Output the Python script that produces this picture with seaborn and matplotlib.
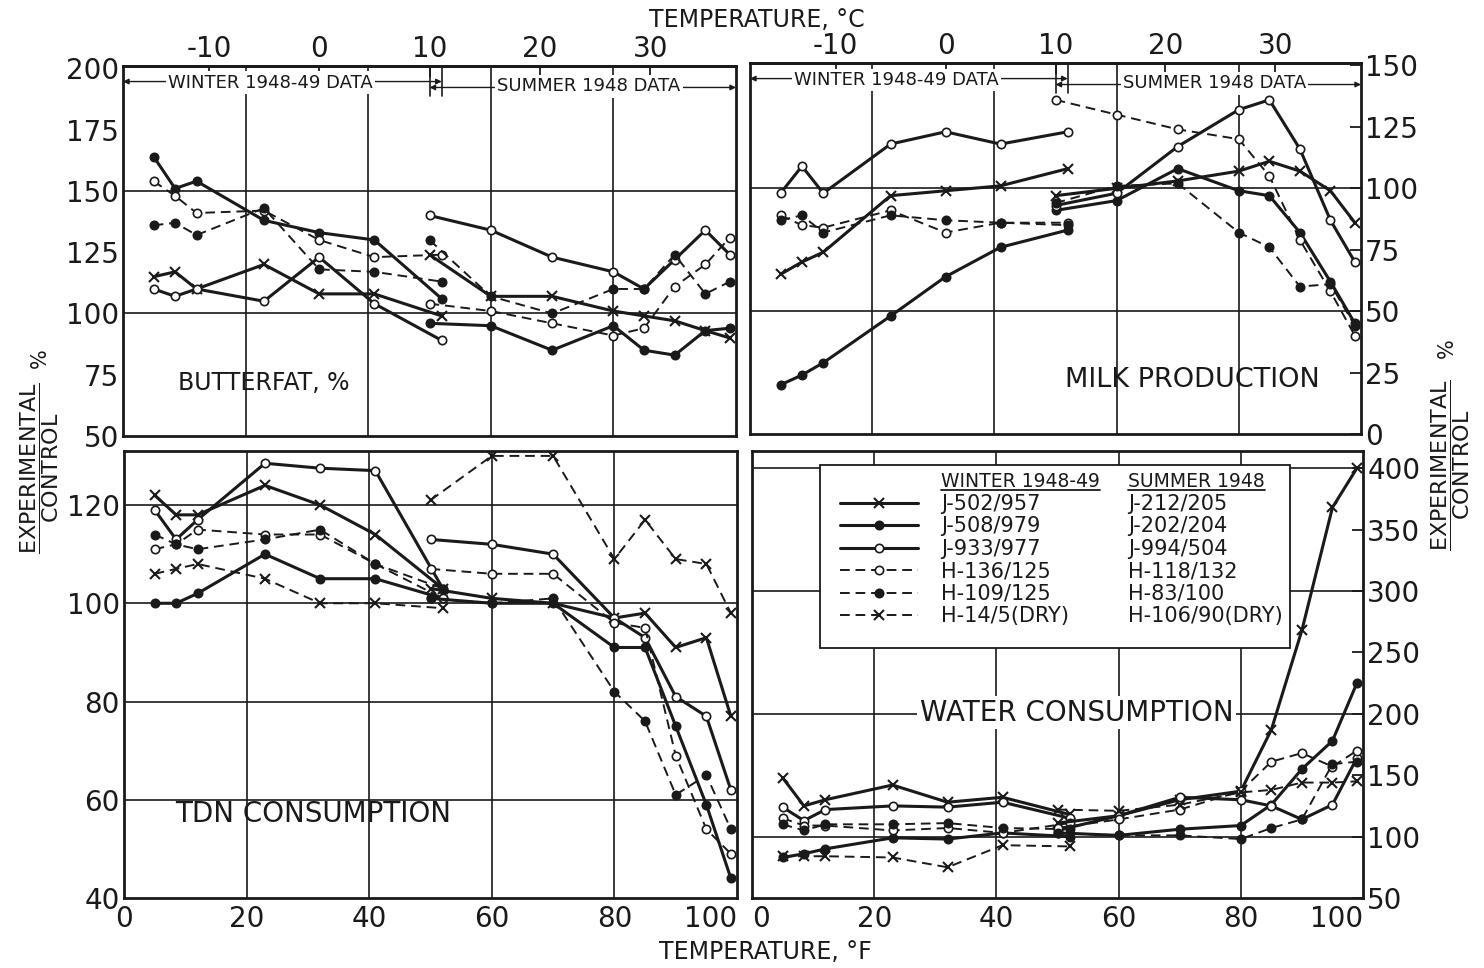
import numpy as np
import pandas as pd
import matplotlib
matplotlib.use("Agg")
import matplotlib.pyplot as plt
from matplotlib.lines import Line2D
from matplotlib.patches import Rectangle
import seaborn as sns

# ---------------------------------------------------------------------------
# Data, experimental / control in %
# ---------------------------------------------------------------------------
winter_temp = [5, 8.5, 12, 23, 32, 41, 52]          # deg F
summer_temp = [50, 60, 70, 80, 85, 90, 95, 99]      # deg F

winter_cows = ["J-502/957", "J-508/979", "J-933/977",
               "H-136/125", "H-109/125", "H-14/5(DRY)"]
summer_cows = ["J-212/205", "J-202/204", "J-994/504",
               "H-118/132", "H-83/100", "H-106/90(DRY)"]

# butterfat (no dry cows)
butterfat_winter = [
    [115, 117, 110, 120, 108, 108, 99],
    [164, 151, 154, 138, 133, 130, 106],
    [110, 107, 110, 105, 123, 104, 89],
    [154, 148, 141, 142, 130, 123, 124],
    [136, 137, 132, 143, 118, 117, 113],
]
butterfat_summer = [
    [124, 107, 107, 101, 99, 97, 93, 90],
    [96, 95, 85, 95, 85, 83, 93, 94],
    [140, 134, 123, 117, 110, 122, 134, 124],
    [104, 101, 96, 91, 94, 111, 120, 131],
    [130, 107, 100, 110, 110, 124, 108, 113],
]

# milk production (no dry cows)
milk_winter = [
    [65, 70, 74, 97, 99, 101, 108],
    [20, 24, 29, 48, 64, 76, 83],
    [98, 109, 98, 118, 123, 118, 123],
    [89, 85, 84, 91, 82, 86, 86],
    [87, 89, 82, 89, 87, 86, 85],
]
milk_summer = [
    [97, 100, 103, 107, 111, 107, 99, 86],
    [91, 95, 108, 99, 97, 82, 62, 45],
    [93, 98, 117, 132, 136, 116, 87, 70],
    [136, 130, 124, 120, 105, 79, 58, 40],
    [94, 101, 102, 82, 76, 60, 61, 44],
]

# TDN consumption
tdn_winter = [
    [122, 118, 118, 124, 120, 114, 103],
    [100, 100, 102, 110, 105, 105, 101],
    [119, 113, 117, 128.5, 127.5, 127, 103],
    [111, 112, 115, 114, 114, 108, 101],
    [114, 112, 111, 113, 115, 108, 103],
    [106, 107, 108, 105, 100, 100, 99],
]
tdn_summer = [
    [103, 101, 100, 97, 98, 91, 93, 77],
    [101, 100, 100, 91, 91, 75, 59, 44],
    [113, 112, 110, 97, 93, 81, 77, 62],
    [107, 106, 106, 96, 95, 69, 54, 49],
    [101, 100, 101, 82, 76, 61, 65, 54],
    [121, 130, 130, 109, 117, 109, 108, 98],
]

# water consumption
water_winter = [
    [148, 125, 130, 142, 128, 132, 118],
    [83, 86, 90, 99, 98, 103, 100],
    [124, 113, 122, 125, 124, 128, 115],
    [115, 109, 109, 105, 107, 103, 111],
    [110, 105, 110, 110, 111, 107, 106],
    [84, 84, 84, 83, 75, 93, 92],
]
water_summer = [
    [111, 117, 130, 137, 187, 268, 368, 400],
    [103, 101, 106, 109, 126, 155, 178, 225],
    [105, 117, 132, 130, 125, 114, 126, 164],
    [107, 114, 122, 137, 161, 168, 157, 170],
    [103, 101, 101, 98, 107, 114, 159, 161],
    [122, 121, 126, 136, 138, 144, 144, 145],
]

# marker, linestyle, marker face, line width  (same order as the cow lists)
line_styles = [
    ("x", "-", "k", 2.2),
    ("o", "-", "k", 2.2),
    ("o", "-", "w", 2.2),
    ("o", (0, (5, 3)), "w", 1.4),
    ("o", (0, (5, 3)), "k", 1.4),
    ("x", (0, (5, 3)), "k", 1.4),
]

sns.set_theme(style="white", rc={
    "axes.edgecolor": "k", "text.color": "k", "xtick.color": "k",
    "ytick.color": "k", "axes.labelcolor": "k"})
plt.rcParams["font.family"] = ["DejaVu Sans"]
plt.rcParams["mathtext.fontset"] = "dejavusans"
plt.rcParams["axes.unicode_minus"] = False

W, H = 1484, 968
fig = plt.figure(figsize=(W / 100, H / 100), dpi=100)


def px_axes(x0, y0, x1, y1):
    return fig.add_axes([x0 / W, 1 - y1 / H, (x1 - x0) / W, (y1 - y0) / H])


def draw_panel(ax, winter_rows, summer_rows):
    frames = []
    for season, temps, names, rows in (("winter", winter_temp, winter_cows, winter_rows),
                                       ("summer", summer_temp, summer_cows, summer_rows)):
        for k, vals in enumerate(rows):
            frames.append(pd.DataFrame({"temp": temps, "value": vals,
                                        "cow": names[k], "style": k, "season": season}))
    df = pd.concat(frames, ignore_index=True)
    for (season, cow), sub in df.groupby(["season", "cow"], sort=False):
        marker, ls, face, lw = line_styles[sub["style"].iloc[0]]
        sns.lineplot(data=sub, x="temp", y="value", ax=ax, color="k", lw=lw,
                     linestyle=ls, marker=marker,
                     markersize=7 if marker == "x" else 6,
                     markerfacecolor=face, markeredgecolor="k",
                     markeredgewidth=1.5 if marker == "x" else 1.2,
                     errorbar=None, legend=False, zorder=3)
    ax.set_xlabel("")
    ax.set_ylabel("")


ax_bf = px_axes(123, 66, 736, 436)
ax_mk = px_axes(750, 63, 1361, 434)
ax_tdn = px_axes(124, 451, 737, 898)
ax_wt = px_axes(752, 451, 1363, 898)

draw_panel(ax_bf, butterfat_winter, butterfat_summer)
draw_panel(ax_mk, milk_winter, milk_summer)
draw_panel(ax_tdn, tdn_winter, tdn_summer)
draw_panel(ax_wt, water_winter, water_summer)

for ax in (ax_bf, ax_mk, ax_tdn, ax_wt):
    ax.set_xlim(0, 100)
    ax.set_xticks([0, 20, 40, 60, 80, 100])
    ax.set_xticks([10, 30, 50, 70, 90], minor=True)
    for xg in (20, 40, 60, 80):
        ax.axvline(xg, color="k", lw=1.2, zorder=1)
    for s in ax.spines.values():
        s.set_linewidth(2)
    ax.tick_params(which="major", direction="in", length=8, width=1.3,
                   labelsize=20, pad=3)
    ax.tick_params(which="minor", direction="in", length=6, width=1.2)
    ax.tick_params(axis="x", pad=5)

for ax in (ax_bf, ax_mk):
    ax.tick_params(labelbottom=False)
for ax in (ax_mk, ax_wt):
    ax.yaxis.tick_right()

# y scales and horizontal rules
ax_bf.set_ylim(50, 201)
ax_bf.set_yticks(np.arange(50, 201, 25))
for yg in (100, 150):
    ax_bf.axhline(yg, color="k", lw=1.2, zorder=1)

ax_mk.set_ylim(0, 151)
ax_mk.set_yticks(np.arange(0, 151, 25))
for yg in (50, 100):
    ax_mk.axhline(yg, color="k", lw=1.2, zorder=1)

ax_tdn.set_ylim(40, 131)
ax_tdn.set_yticks(np.arange(40, 121, 20))
ax_tdn.set_yticks([50, 70, 90, 110], minor=True)
for yg in (60, 80, 100, 120):
    ax_tdn.axhline(yg, color="k", lw=1.2, zorder=1)

ax_wt.set_ylim(50, 414)
ax_wt.set_yticks(np.arange(50, 401, 50))
for yg in (100, 200, 300, 400):
    ax_wt.axhline(yg, color="k", lw=1.2, zorder=1)

# keep the touching corner labels of the bottom panels apart
ax_tdn.get_xticklabels()[-1].set_ha("right")
ax_wt.get_xticklabels()[0].set_ha("left")
ax_wt.get_xticklabels()[-1].set_ha("right")

# top axis in degrees C
def f_to_c(f):
    return (np.asarray(f) - 32) * 5 / 9


def c_to_f(c):
    return np.asarray(c) * 9 / 5 + 32


for ax in (ax_bf, ax_mk):
    sec = ax.secondary_xaxis("top", functions=(f_to_c, c_to_f))
    sec.set_xticks([-10, 0, 10, 20, 30])
    sec.tick_params(direction="in", length=8, width=1.3, labelsize=20, pad=2)
    sec.spines["top"].set_linewidth(2)

    # winter / summer data banners
    tr = ax.get_xaxis_transform()
    ax.annotate("", xy=(0, 0.958), xytext=(52, 0.958), xycoords=tr,
                arrowprops=dict(arrowstyle="<|-|>", lw=1, color="k",
                                shrinkA=0, shrinkB=0, mutation_scale=8))
    ax.annotate("", xy=(50, 0.942), xytext=(100, 0.942), xycoords=tr,
                arrowprops=dict(arrowstyle="<|-|>", lw=1, color="k",
                                shrinkA=0, shrinkB=0, mutation_scale=8))
    for xb in (50, 52):
        ax.plot([xb, xb], [0.92, 1.0], transform=tr, color="k", lw=1.2)
    ax.text(24, 0.955, "WINTER 1948-49 DATA", transform=tr, ha="center",
            va="center", fontsize=13, zorder=6,
            bbox=dict(fc="w", ec="none", pad=1.5))
    ax.text(76, 0.945, "SUMMER 1948 DATA", transform=tr, ha="center",
            va="center", fontsize=13, zorder=6,
            bbox=dict(fc="w", ec="none", pad=1.5))

# panel titles
ax_bf.text(9, 71.5, "BUTTERFAT, %", fontsize=17, va="center", ha="left")
ax_mk.text(51.5, 22, "MILK PRODUCTION", fontsize=19.5, va="center", ha="left")
ax_tdn.text(8.3, 57, "TDN CONSUMPTION", fontsize=20, va="center", ha="left")
ax_wt.text(27.5, 201, "WATER CONSUMPTION", fontsize=20, va="center",
           ha="left", zorder=4, bbox=dict(fc="w", ec="none", pad=2))

# axis titles
fig.text(757 / W, 1 - 20 / H, "TEMPERATURE, °C", fontsize=17,
         ha="center", va="center")
fig.text(765 / W, 1 - 952 / H, "TEMPERATURE, °F", fontsize=17,
         ha="center", va="center")
frac = r"$\dfrac{\mathrm{EXPERIMENTAL}}{\mathrm{CONTROL}}$"
fig.text(40 / W, 1 - 468 / H, frac, fontsize=16, rotation=90,
         ha="center", va="center")
fig.text(40 / W, 1 - 358 / H, "%", fontsize=15, rotation=90,
         ha="center", va="center")
fig.text(1451 / W, 1 - 465 / H, frac, fontsize=16, rotation=90,
         ha="center", va="center")
fig.text(1447 / W, 1 - 348 / H, "%", fontsize=15, rotation=90,
         ha="center", va="center")

# legend (two columns: winter cows with line samples, summer cows)
blank = Line2D([], [], ls="none")
handles = [blank]
for marker, ls, face, lw in line_styles:
    handles.append(Line2D([], [], color="k", lw=lw, linestyle=ls, marker=marker,
                          markersize=7 if marker == "x" else 6,
                          markerfacecolor=face, markeredgecolor="k",
                          markeredgewidth=1.5 if marker == "x" else 1.2))
leg_w = ax_wt.legend(handles, ["WINTER 1948-49"] + winter_cows,
                     loc="upper left", bbox_to_anchor=(0.144, 0.952),
                     frameon=False, fontsize=15, handlelength=3.75,
                     handletextpad=1.1, labelspacing=0.12, borderpad=0,
                     borderaxespad=0)
ax_wt.add_artist(leg_w)
leg_s = ax_wt.legend([blank] * 7, ["SUMMER 1948"] + summer_cows,
                     loc="upper left", bbox_to_anchor=(0.615, 0.952),
                     frameon=False, fontsize=15, handlelength=0,
                     handletextpad=0, labelspacing=0.12, borderpad=0,
                     borderaxespad=0)
for leg in (leg_w, leg_s):
    leg.get_texts()[0].set_fontsize(13.5)
ax_wt.add_patch(Rectangle((0.111, 0.559), 0.769, 0.41, transform=ax_wt.transAxes,
                          fc="w", ec="k", lw=1.3, zorder=4))

fig.canvas.draw()
inv = fig.transFigure.inverted()
for leg in (leg_w, leg_s):
    bb = leg.get_texts()[0].get_window_extent().transformed(inv)
    fig.add_artist(Line2D([bb.x0, bb.x1], [bb.y0 + 0.002, bb.y0 + 0.002],
                          color="k", lw=1.3))

fig.savefig("out.png", dpi=100)
